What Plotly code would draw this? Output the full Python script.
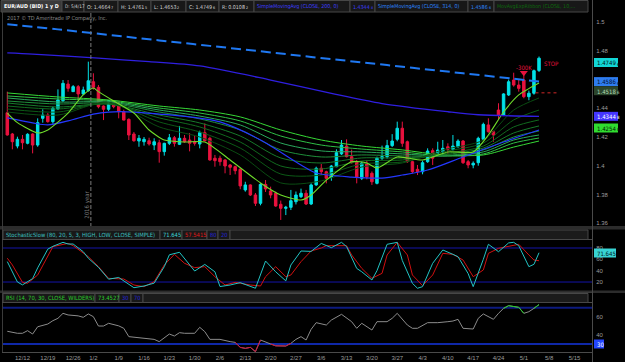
import plotly.graph_objects as go
import pandas as pd

W, H = 625, 362

# ---------------- categories: trading days ----------------
holidays = ['2016-12-26']
calendar = [d for d in pd.bdate_range('2016-12-07', '2017-05-19')
            if d.strftime('%Y-%m-%d') not in holidays]
N_BARS = 106
pos = {d: i for i, d in enumerate(calendar)}
week_starts = pd.date_range('2016-12-12', '2017-05-15', freq='W-MON')
tick_labels = [f"{w.month}/{w.day}" for w in week_starts]
tick_vals = [pos[next(d for d in calendar if d >= w)] for w in week_starts]

# ---------------- price data (daily bars) ----------------
opens = [1.4369,1.4221,1.4137,1.4184,1.4156,1.4221,1.4144,1.4330,1.4353,1.4307,
         1.4395,1.4453,1.4569,1.4516,1.4551,1.4500,1.4523,1.4585,1.4546,1.4416,
         1.4393,1.4451,1.4430,1.4376,1.4323,1.4221,1.4172,1.4167,1.4174,1.4144,
         1.4160,1.4098,1.4156,1.4195,1.4149,1.4191,1.4179,1.4167,1.4151,1.4230,
         1.4191,1.4052,1.4052,1.4040,1.4005,1.3993,1.3975,1.3831,1.3866,1.3796,
         1.3738,1.3870,1.3824,1.3808,1.3731,1.3703,1.3710,1.3749,1.3784,1.3808,
         1.3733,1.3866,1.3982,1.3958,1.3919,1.3993,1.4082,1.4137,1.4063,1.4028,
         1.3912,1.4017,1.3947,1.3877,1.4052,1.4063,1.4140,1.4184,1.4261,1.4167,
         1.4028,1.3975,1.3958,1.4028,1.4105,1.4086,1.4098,1.4132,1.4114,1.4132,
         1.4172,1.4028,1.4005,1.4021,1.4184,1.4284,1.4237,1.4388,1.4353,1.4493,
         1.4597,1.4562,1.4597,1.4481,1.4505,1.4664]
highs = [1.4516,1.4228,1.4202,1.4214,1.4226,1.4226,1.4330,1.4393,1.4367,1.4411,
         1.4532,1.4597,1.4597,1.4562,1.4562,1.4551,1.4725,1.4644,1.4562,1.4420,
         1.4458,1.4458,1.4444,1.4390,1.4330,1.4235,1.4214,1.4200,1.4195,1.4191,
         1.4181,1.4160,1.4221,1.4207,1.4277,1.4214,1.4228,1.4207,1.4244,1.4295,
         1.4202,1.4075,1.4070,1.4045,1.4012,1.4000,1.3982,1.3888,1.3870,1.3810,
         1.3877,1.3900,1.3854,1.3819,1.3757,1.3720,1.3831,1.3820,1.3840,1.3831,
         1.3877,1.3993,1.4012,1.3965,1.4005,1.4114,1.4179,1.4184,1.4112,1.4040,
         1.4030,1.4040,1.3960,1.4063,1.4140,1.4180,1.4220,1.4307,1.4307,1.4175,
         1.4035,1.4005,1.4035,1.4121,1.4121,1.4167,1.4179,1.4156,1.4214,1.4184,
         1.4179,1.4040,1.4030,1.4202,1.4300,1.4330,1.4244,1.4435,1.4505,1.4600,
         1.4648,1.4597,1.4655,1.4523,1.4670,1.4761]
lows = [1.4210,1.4114,1.4121,1.4114,1.4149,1.4086,1.4132,1.4300,1.4300,1.4293,
        1.4388,1.4444,1.4516,1.4514,1.4458,1.4493,1.4516,1.4530,1.4400,1.4318,
        1.4381,1.4400,1.4330,1.4316,1.4179,1.4167,1.4132,1.4140,1.4140,1.4109,
        1.4021,1.4070,1.4144,1.4133,1.4144,1.4160,1.4100,1.4140,1.4121,1.4170,
        1.4035,1.3993,1.4000,1.3947,1.3935,1.3940,1.3836,1.3819,1.3789,1.3719,
        1.3724,1.3817,1.3773,1.3714,1.3622,1.3656,1.3691,1.3730,1.3775,1.3726,
        1.3726,1.3860,1.3935,1.3877,1.3895,1.3990,1.4075,1.4058,1.4015,1.3877,
        1.3900,1.3905,1.3866,1.3870,1.4040,1.4050,1.4130,1.4170,1.4132,1.4020,
        1.3947,1.3935,1.3940,1.4020,1.4005,1.4070,1.4075,1.4082,1.4105,1.4125,
        1.4012,1.3982,1.3982,1.4000,1.4181,1.4230,1.4167,1.4318,1.4346,1.4486,
        1.4551,1.4516,1.4470,1.4456,1.4495,1.4653]
closes = [1.4214,1.4167,1.4184,1.4160,1.4219,1.4144,1.4300,1.4353,1.4307,1.4400,
          1.4458,1.4574,1.4539,1.4551,1.4500,1.4528,1.4592,1.4546,1.4411,1.4393,
          1.4453,1.4411,1.4376,1.4318,1.4214,1.4174,1.4191,1.4184,1.4151,1.4167,
          1.4098,1.4156,1.4195,1.4156,1.4191,1.4167,1.4156,1.4156,1.4230,1.4174,
          1.4040,1.4035,1.4028,1.3998,1.3989,1.3965,1.3859,1.3866,1.3796,1.3738,
          1.3870,1.3838,1.3796,1.3719,1.3703,1.3710,1.3756,1.3796,1.3808,1.3733,
          1.3866,1.3982,1.3958,1.3912,1.3998,1.4091,1.4144,1.4063,1.4021,1.3919,
          1.4017,1.3923,1.3888,1.4052,1.4063,1.4140,1.4172,1.4261,1.4156,1.4028,
          1.3958,1.3958,1.4021,1.4102,1.4052,1.4109,1.4121,1.4114,1.4137,1.4172,
          1.4021,1.4005,1.4017,1.4191,1.4288,1.4237,1.4214,1.4353,1.4500,1.4585,
          1.4562,1.4539,1.4481,1.4505,1.4662,1.4749]

# ---------------- moving averages (read at bar numbers) ----------------
sma314_bars = [0, 10, 20, 30, 40, 50, 60, 70, 80, 90, 100, 105]
sma314_vals = [1.4986, 1.4950, 1.4912, 1.4873, 1.4835, 1.4797, 1.4758, 1.4720, 1.4682, 1.4644, 1.4606, 1.4586]
sma200_bars = [0, 5, 18, 28, 38, 52, 64, 74, 87, 93, 105]
sma200_vals = [1.4786, 1.4778, 1.4749, 1.4725, 1.4695, 1.4597, 1.4504, 1.4433, 1.4376, 1.4355, 1.4344]

fast_bars = [0, 2, 6, 8, 12, 15, 17, 18, 21, 25, 28, 31, 35, 39, 44, 50, 54, 58, 60, 63, 68, 71, 73, 77, 82, 87, 92, 95, 98, 101, 105]
fast_vals = [1.4367, 1.4300, 1.4228, 1.4249, 1.4367, 1.4493, 1.4541, 1.4516, 1.4451, 1.4367, 1.4249, 1.4179,
             1.4165, 1.4165, 1.4040, 1.3880, 1.3796, 1.3761, 1.3796, 1.3900, 1.4028, 1.4019, 1.3984, 1.4061,
             1.4040, 1.4096, 1.4096, 1.4214, 1.4374, 1.4493, 1.4576]

ribbon_bars = [0, 10, 20, 30, 38, 46, 54, 62, 70, 78, 86, 94, 100, 105]
ribbon_1 = [1.4374, 1.4353, 1.4444, 1.4270, 1.4200, 1.4075, 1.3880, 1.3894, 1.3991, 1.4019, 1.4110, 1.4179, 1.4388, 1.4472]
ribbon_2 = [1.4395, 1.4374, 1.4437, 1.4305, 1.4235, 1.4123, 1.3942, 1.3935, 1.4012, 1.4026, 1.4096, 1.4158, 1.4319, 1.4388]
ribbon_3 = [1.4416, 1.4395, 1.4430, 1.4333, 1.4270, 1.4165, 1.3998, 1.3977, 1.4033, 1.4040, 1.4082, 1.4137, 1.4270, 1.4319]
ribbon_4 = [1.4437, 1.4409, 1.4430, 1.4353, 1.4298, 1.4207, 1.4054, 1.4019, 1.4054, 1.4054, 1.4075, 1.4123, 1.4228, 1.4277]
ribbon_5 = [1.4451, 1.4430, 1.4437, 1.4374, 1.4326, 1.4249, 1.4110, 1.4061, 1.4075, 1.4068, 1.4068, 1.4110, 1.4200, 1.4242]
ribbon_6 = [1.4472, 1.4444, 1.4444, 1.4388, 1.4346, 1.4284, 1.4158, 1.4103, 1.4096, 1.4082, 1.4068, 1.4096, 1.4179, 1.4214]
ribbon_7 = [1.4486, 1.4465, 1.4451, 1.4402, 1.4367, 1.4312, 1.4207, 1.4144, 1.4116, 1.4096, 1.4068, 1.4082, 1.4158, 1.4193]
ribbon_8 = [1.4507, 1.4479, 1.4458, 1.4416, 1.4388, 1.4340, 1.4249, 1.4179, 1.4137, 1.4110, 1.4075, 1.4075, 1.4130, 1.4172]

blue_bars = [0, 5, 8, 12, 17, 20, 25, 30, 36, 42, 50, 58, 61, 68, 74, 78, 83, 90, 98, 105]
blue_vals = [1.4333, 1.4298, 1.4284, 1.4312, 1.4360, 1.4374, 1.4374, 1.4360, 1.4340, 1.4305, 1.4179, 1.4005,
             1.3949, 1.3921, 1.3914, 1.3935, 1.3970, 1.4061, 1.4165, 1.4249]

# ---------------- stochastic slow ----------------
stk_bars = [0,1,2,3,5,6,8,9,11,12,13,15,16,18,20,22,24,25,27,29,31,32,34,37,39,41,42,44,46,47,
            49,51,53,55,56,58,60,62,63,64,66,67,69,70,72,73,75,77,78,80,81,82,84,86,88,89,91,92,94,95,
            97,99,100,101,103,104,105]
stk_vals = [56,38,20,15,26,45,78,83,90,87,87,73.5,62,46,25,28,15,10,13,18,47,68,72.4,39.4,51,38,12,14.7,18.9,16,
            9,57,38,22,50,74.7,74,88,84,80.6,90,82.4,44,38,23.6,40,86.5,90,58,17.7,9,11.8,53,76.5,68.8,64.7,35,11.8,60,86.5,
            73.5,89,90,84,47.1,51.2,71.645]
std_bars = [0,1,3,4,6,8,9,12,13,16,18,20,23,25,27,29,31,33,35,37,39,41,43,45,48,50,51,53,55,56,
            58,60,62,63,65,67,68,70,72,74,75,77,79,80,82,84,86,88,90,92,94,95,97,99,101,103,104,105]
std_vals = [62,50,19.4,17.7,32.4,64.7,82.4,88.2,84.1,64.7,47.1,26.5,25.3,14.7,11.8,20.6,50,68.8,53,45.3,
            47.1,29.4,14.7,19.4,14.7,13,29.4,47.1,29.4,32.4,55.9,74.7,80,84.1,84.1,84.1,67.7,44.1,26.5,35.3,
            67.7,90,67.7,32.4,13.6,32.4,70.6,68.8,58.8,29.4,41.2,70.6,79.4,82.4,86.5,67.7,58.8,57.5415]

# ---------------- RSI ----------------
rsi_bars = [0,2,3,4,5,6,8,9,10,11,12,14,15,16,17,18,19,20,22,23,24,25,27,29,30,31,32,33,34,35,
            37,38,39,40,42,44,45,46,47,48,49,50,51,52,53,55,56,57,58,59,60,61,63,64,66,68,69,70,72,73,
            75,76,77,79,80,81,83,85,87,88,89,90,92,93,94,96,97,98,99,101,102,103,104,105]
rsi_vals = [44,41.8,41.8,44.7,41.0,49,52,55.7,58.3,63.8,62,61,59.4,63.1,60.1,49.8,49.8,52.8,50,47.3,
            38.1,37.5,37,35.1,32.6,37,41,38.8,42.5,41.8,41.8,48.4,43.6,35.1,35.1,32.6,31.8,26.3,25.2,26.3,
            21.6,34.4,32.6,30,28,27.8,30.7,35.1,38.1,34.4,46.2,53.5,50.9,56.4,62.7,54.6,47.3,52.8,45.4,54.6,
            54.6,58.3,63.8,50.9,47.3,47.3,53.5,53.5,54.6,55.3,57.2,47.3,46.5,58.3,63.1,57.2,63.8,69.3,72.2,70.4,
            63.8,65.6,69.3,73.4527]

# ---------------- pixel helpers (layout only) ----------------
def fx(px):
    return px / W

def fy(py):
    return 1 - py / H

PLOT_L, PLOT_R = 3, 592
MAIN_T, MAIN_B = 12, 227
STO_T, STO_B = 240, 292
RSI_T, RSI_B = 303, 352

def p_at(py):
    return 1.40 + (165.7 - py) / 1435.0

bar_px = 5.064
bar0_px = 7.3
x_lo = (PLOT_L - bar0_px) / bar_px
x_hi = (PLOT_R - bar0_px) / bar_px

FONT = 'DejaVu Sans Condensed'
AXFONT = 'Liberation Sans'
CYAN = '#00e1e6'
RED = '#e8123e'

EM = {'0': .573, '1': .573, '2': .573, '3': .573, '4': .573, '5': .573, '6': .573, '7': .573, '8': .573, '9': .573,
      '.': .286, ':': .303, ' ': .286, 'O': .708, 'H': .677, 'L': .501, 'C': .628, 'R': .626}

def text_w(s, size):
    return sum(EM.get(c, .55) for c in s) * size

fig = go.Figure()
bars = list(range(N_BARS))

ribbon = [ribbon_8, ribbon_7, ribbon_6, ribbon_5, ribbon_4, ribbon_3, ribbon_2, ribbon_1]
ribbon_colors = ['#36d936', '#2fbf45', '#2aa85c', '#1f8f3a', '#17792a', '#116a1e', '#0c5a16', '#0a4c12']
for vals, col in zip(ribbon, ribbon_colors):
    fig.add_trace(go.Scatter(x=ribbon_bars, y=vals, mode='lines', line=dict(color=col, width=1, shape='spline', smoothing=0.8),
                             hoverinfo='skip', xaxis='x', yaxis='y'))
fig.add_trace(go.Scatter(x=blue_bars, y=blue_vals, mode='lines', line=dict(color='#2438ff', width=1.2, shape='spline', smoothing=0.8),
                         hoverinfo='skip', xaxis='x', yaxis='y'))
fig.add_trace(go.Scatter(x=fast_bars, y=fast_vals, mode='lines', line=dict(color='#6fdc2a', width=1.1, shape='spline', smoothing=0.6),
                         hoverinfo='skip', xaxis='x', yaxis='y'))
fig.add_trace(go.Scatter(x=sma200_bars, y=sma200_vals, mode='lines', line=dict(color='#2f1fe0', width=1.3, shape='spline', smoothing=0.8),
                         hoverinfo='skip', xaxis='x', yaxis='y'))
fig.add_trace(go.Scatter(x=sma314_bars, y=sma314_vals, mode='lines', line=dict(color='#1f78f2', width=2, dash='10px,5px', shape='spline'),
                         hoverinfo='skip', xaxis='x', yaxis='y'))

fig.add_trace(go.Candlestick(x=bars, open=opens, high=highs, low=lows, close=closes,
                             increasing=dict(line=dict(color=CYAN, width=1), fillcolor=CYAN),
                             decreasing=dict(line=dict(color=RED, width=1), fillcolor=RED),
                             whiskerwidth=0, hoverinfo='skip', xaxis='x', yaxis='y'))

fig.add_trace(go.Scatter(x=[102], y=[1.4648], mode='markers', marker=dict(symbol='triangle-down', size=7, color='#e8123e'),
                         hoverinfo='skip', xaxis='x', yaxis='y'))
fig.add_trace(go.Scatter(x=[104.3, 108.9], y=[1.4508, 1.4508], mode='lines', line=dict(color='#8a1a1a', width=1.5, dash='3px,3px'),
                         hoverinfo='skip', xaxis='x', yaxis='y'))

fig.add_trace(go.Scatter(x=std_bars, y=std_vals, mode='lines', line=dict(color='#d01010', width=1),
                         hoverinfo='skip', xaxis='x2', yaxis='y2'))
fig.add_trace(go.Scatter(x=stk_bars, y=stk_vals, mode='lines', line=dict(color='#22c4c4', width=1),
                         hoverinfo='skip', xaxis='x2', yaxis='y2'))

fig.add_trace(go.Scatter(x=rsi_bars, y=rsi_vals, mode='lines', line=dict(color='#8c8c8c', width=1),
                         hoverinfo='skip', xaxis='x3', yaxis='y3'))
def zone_segments(cond):
    xs, ys = [], []
    for i in range(len(rsi_vals) - 1):
        if cond(rsi_vals[i]) or cond(rsi_vals[i + 1]):
            xs += [rsi_bars[i], rsi_bars[i + 1], None]
            ys += [rsi_vals[i], rsi_vals[i + 1], None]
    return xs, ys
rx, ry = zone_segments(lambda v: v < 30)
fig.add_trace(go.Scatter(x=rx, y=ry, mode='lines', line=dict(color='#d0103a', width=1), hoverinfo='skip', xaxis='x3', yaxis='y3'))
gx, gy = zone_segments(lambda v: v > 70)
fig.add_trace(go.Scatter(x=gx, y=gy, mode='lines', line=dict(color='#22cc22', width=1), hoverinfo='skip', xaxis='x3', yaxis='y3'))

shapes = []
ann = []

for lv in (80, 20):
    shapes.append(dict(type='line', xref='x2', yref='y2', x0=x_lo, x1=x_hi, y0=lv, y1=lv, line=dict(color='#1414a8', width=1), layer='below'))
shapes.append(dict(type='line', xref='x3', yref='y3', x0=x_lo, x1=x_hi, y0=70, y1=70, line=dict(color='#0c1a80', width=2), layer='below'))
shapes.append(dict(type='line', xref='x3', yref='y3', x0=x_lo, x1=x_hi, y0=30, y1=30, line=dict(color='#1436e0', width=1.5), layer='below'))

shapes.append(dict(type='line', xref='x', yref='paper', x0=16.5, x1=16.5, y0=fy(MAIN_B), y1=fy(MAIN_T),
                   line=dict(color='#7a7a7a', width=1, dash='4px,2px')))
ann.append(dict(xref='x', yref='paper', x=15.7, y=fy(205), text='2016 year', textangle=-90, showarrow=False,
                font=dict(family=FONT, size=6, color='#777777')))

def rect(x0, y0, x1, y1, fill, line=None, lw=1):
    shapes.append(dict(type='rect', xref='paper', yref='paper', x0=fx(x0), x1=fx(x1), y0=fy(y1), y1=fy(y0),
                       fillcolor=fill, line=dict(color=line or fill, width=lw if line else 0), layer='above'))

def hline(y, x0, x1, col, w=1):
    shapes.append(dict(type='line', xref='paper', yref='paper', x0=fx(x0), x1=fx(x1), y0=fy(y), y1=fy(y), line=dict(color=col, width=w), layer='above'))

def vline(x, y0, y1, col, w=1):
    shapes.append(dict(type='line', xref='paper', yref='paper', x0=fx(x), x1=fx(x), y0=fy(y0), y1=fy(y1), line=dict(color=col, width=w), layer='above'))

rect(0, 226, 625, 229.5, '#2c2c2c')
rect(0, 290.5, 625, 293, '#2c2c2c')
vline(PLOT_R + 0.5, 0, 362, '#4a4a4a')
vline(2.5, 12, 352, '#3a3a3a')
hline(STO_T - 0.5, 2, PLOT_R, '#4a4a4a')
hline(STO_B + 0.5, 2, PLOT_R, '#3a3a3a')
hline(RSI_T - 0.5, 2, PLOT_R, '#4a4a4a')
hline(RSI_B + 0.5, 2, PLOT_R, '#4a4a4a')

def text(x, y, s, color, size=6, anchor='left', bold=False, family=FONT):
    if bold:
        s = '<b>' + s + '</b>'
    ann.append(dict(xref='paper', yref='paper', x=fx(x), y=fy(y), text=s, showarrow=False, xanchor=anchor, yanchor='middle',
                    font=dict(family=family, size=size, color=color)))

def label_with_tail(x, y, main, tail, color, size):
    text(x, y, main, color, size=size)
    if tail:
        text(x + text_w(main, size) + 0.6, y + 1.3, tail, color, size=size * 0.72)

def header(cells, y0, y1, end_x=None, size=6):
    for (x0, x1, label, tail, col, bg, bold, sz) in cells:
        s = sz or size
        rect(x0, y0, x1, y1, bg, '#474747')
        if bold:
            text(x0 + 1.3, (y0 + y1) / 2 + 0.3, label, col, bold=True, size=s)
        else:
            label_with_tail(x0 + 1.3, (y0 + y1) / 2 + 0.3, label, tail, col, s)
    if end_x:
        rect(cells[-1][1], y0, end_x, y1, '#1b1b1b', '#474747')

G = '#d4d4d4'
BG = '#181818'

header([
    (1, 62, 'EUR/AUD (BID) 1 y D', '', '#ffffff', '#3a3a3a', True, 5.3),
    (62, 84, 'D: 5/4/17', '', G, BG, False, 4.7),
    (84, 118, 'O: 1.4664', '7', G, BG, False, None),
    (118, 151, 'H: 1.4761', '5', G, BG, False, None),
    (151, 186, 'L: 1.4653', '2', G, BG, False, None),
    (186, 219, 'C: 1.4749', '6', G, BG, False, None),
    (219, 254, 'R: 0.0108', '2', G, BG, False, None),
    (254, 350, 'SimpleMovingAvg (CLOSE, 200, 0)', '', '#3d3dff', BG, False, None),
    (350, 375, '1.4344', '8', '#3d3dff', BG, False, None),
    (375, 468, 'SimpleMovingAvg (CLOSE, 314, 0)', '', '#2b86ff', BG, False, None),
    (468, 494, '1.4586', '6', '#2b86ff', BG, False, None),
    (494, 588, 'MovAvgExpRibbon (CLOSE, 10,...', '', '#0c6a0c', BG, False, None),
], 0.5, 12, size=5.3)
text(5, 18.5, '2017 © TD Ameritrade IP Company, Inc.', '#8a8a8a', size=5.5)

header([
    (3, 160, 'StochasticSlow (80, 20, 5, 3, HIGH, LOW, CLOSE, SIMPLE)', '', '#3cc0c0', BG, False, None),
    (160, 182, '71.645', '', '#3cd6d6', BG, False, None),
    (182, 207, '57.5415', '', '#e01818', BG, False, None),
    (207, 218, '80', '', '#2424d0', BG, False, None),
    (218, 230, '20', '', '#2424d0', BG, False, None),
], 230, 239.5, end_x=588, size=5.8)

header([
    (3, 95, 'RSI (14, 70, 30, CLOSE, WILDERS)', '', '#2ccc2c', BG, False, None),
    (95, 119, '73.4527', '', '#2ccc2c', BG, False, None),
    (119, 131, '30', '', '#2424d0', BG, False, None),
    (131, 143, '70', '', '#2424d0', BG, False, None),
], 293.5, 302.5, end_x=588, size=5.8)

ann.append(dict(xref='x', yref='y', x=102, y=p_at(67.5), text='-300K', showarrow=False,
                font=dict(family=FONT, size=6, color='#e8123e')))
ann.append(dict(xref='x', yref='y', x=107.4, y=p_at(63), text='STOP', showarrow=False,
                font=dict(family=FONT, size=6, color='#e8123e')))

def bubble(y_px, main, tail, bg, fg, x0=594, x1=618):
    rect(x0, y_px - 4.5, x1, y_px + 4.5, bg)
    label_with_tail(x0 + 1.2, y_px + 0.3, main, tail, fg, 6)

def py_price(p):
    return 165.7 - (p - 1.40) * 1435.0

bubble(62.5, '1.4749', '6', '#12d6d6', '#001414')
bubble(py_price(1.4586), '1.4586', '6', '#2e7cf0', '#001030')
bubble(90.7, '1.4518', '6', '#2c452c', '#b0d8b0')
bubble(py_price(1.4344), '1.4344', '8', '#4436ff', '#ffffff')
bubble(128, '1.4254', '8', '#30dc30', '#002000')
bubble(253, '71.645', '', '#38d4d4', '#002020', x1=616)
bubble(344, '30', '', '#2446ff', '#ffffff', x1=604)

axis_font = dict(family=AXFONT, size=6, color='#9c9c9c')
common_x = dict(range=[x_lo, x_hi], showgrid=False, zeroline=False, showline=False, domain=[fx(PLOT_L), fx(PLOT_R)])

fig.update_layout(
    width=W, height=H, margin=dict(l=0, r=0, t=0, b=0),
    paper_bgcolor='#000000', plot_bgcolor='#000000', showlegend=False,
    xaxis=dict(**common_x, anchor='y', showticklabels=False, rangeslider=dict(visible=False)),
    xaxis2=dict(**common_x, anchor='y2', matches='x', showticklabels=False),
    xaxis3=dict(**common_x, anchor='y3', matches='x', tickmode='array', tickvals=tick_vals, ticktext=tick_labels,
                tickfont=axis_font, ticks='', ticklabelstandoff=1),
    yaxis=dict(domain=[fy(MAIN_B), fy(MAIN_T)], range=[p_at(MAIN_B), p_at(MAIN_T)], side='right', anchor='x',
               tickmode='array', tickvals=[1.36, 1.38, 1.40, 1.42, 1.44, 1.48, 1.50],
               ticktext=['1.36', '1.38', '1.4', '1.42', '1.44', '1.48', '1.5'], tickfont=axis_font,
               showgrid=False, zeroline=False, ticks='outside', ticklen=2, tickcolor='#000000'),
    yaxis2=dict(domain=[fy(STO_B), fy(STO_T)], range=[80 - (STO_B - 248) / 0.567, 80 - (STO_T - 248) / 0.567], side='right', anchor='x2',
                tickmode='array', tickvals=[20, 40, 60, 80], tickfont=axis_font, showgrid=False, zeroline=False,
                ticks='outside', ticklen=2, tickcolor='#000000'),
    yaxis3=dict(domain=[fy(RSI_B), fy(RSI_T)], range=[70 - (RSI_B - 307.7) / 0.9075, 70 - (RSI_T - 307.7) / 0.9075], side='right', anchor='x3',
                tickmode='array', tickvals=[40, 60], tickfont=axis_font, showgrid=False, zeroline=False,
                ticks='outside', ticklen=2, tickcolor='#000000'),
    shapes=shapes, annotations=ann,
)

fig.write_html('out.html')
